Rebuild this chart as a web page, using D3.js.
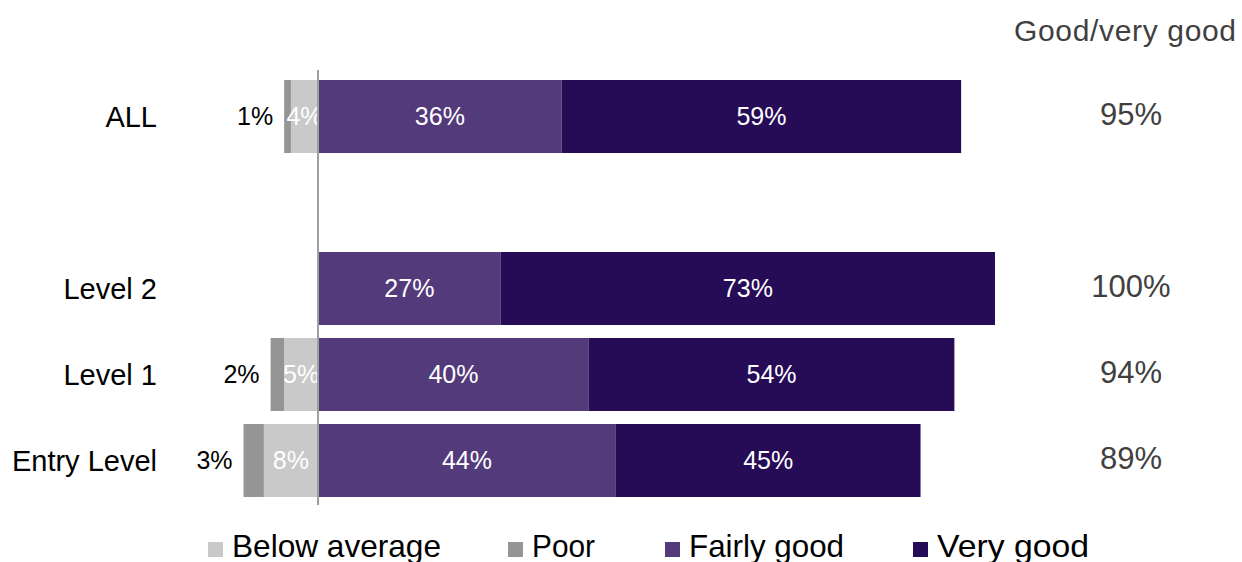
<!DOCTYPE html>
<html><head><meta charset="utf-8">
<script src="https://cdn.jsdelivr.net/npm/d3@7"></script>
<style>body{margin:0;background:#fff}svg{font-family:"Liberation Sans",Arial,sans-serif}</style>
</head><body><svg id="c" width="1242" height="562"></svg>
<script>
const categories = ["ALL", "", "Level 2", "Level 1", "Entry Level"];
const belowAverage = [4, null, 0, 5, 8];
const poor = [1, null, 0, 2, 3];
const fairlyGood = [36, null, 27, 40, 44];
const veryGood = [59, null, 73, 54, 45];
const goodTotal = ["95%", "", "100%", "94%", "89%"];
const seriesNames = ["Below average", "Poor", "Fairly good", "Very good"];
const colors = ["#c9c9c9", "#959595", "#533a7b", "#260b57"];

const svg = d3.select("#c");
const x = d3.scaleLinear().domain([0, 100]).range([318, 995]);
const y = d3.scaleBand().domain(categories.map((c,i)=>i)).range([80, 497]).paddingInner(0.151).paddingOuter(0);
const bh = y.bandwidth();

categories.forEach((cat, i) => {
  if (cat === "") return;
  const g = svg.append("g");
  const y0 = y(i);
  const cy = y0 + bh/2;
  const ba = belowAverage[i], po = poor[i];
  if (ba > 0) {
    g.append("rect").attr("x", x(-ba)).attr("y", y0).attr("width", x(0)-x(-ba)).attr("height", bh).attr("fill", colors[0]);
  }
  if (po > 0) {
    g.append("rect").attr("x", x(-ba-po)).attr("y", y0).attr("width", x(0)-x(-po)).attr("height", bh).attr("fill", colors[1]);
  }
  if (ba > 0) g.append("text").attr("x", (x(-ba)+x(0))/2).attr("y", cy).attr("dy","0.35em").attr("text-anchor","middle").attr("font-size",25).attr("fill","#fff").text(ba+"%");
  if (po > 0) g.append("text").attr("x", x(-ba-po)-11).attr("y", cy).attr("dy","0.35em").attr("text-anchor","end").attr("font-size",25).attr("fill","#000").text(po+"%");
  const fg = fairlyGood[i], vg = veryGood[i];
  g.append("rect").attr("x", x(0)).attr("y", y0).attr("width", x(fg)-x(0)).attr("height", bh).attr("fill", colors[2]);
  g.append("rect").attr("x", x(fg)).attr("y", y0).attr("width", x(fg+vg)-x(fg)).attr("height", bh).attr("fill", colors[3]);
  g.append("text").attr("x", (x(0)+x(fg))/2).attr("y", cy).attr("dy","0.35em").attr("text-anchor","middle").attr("font-size",25).attr("fill","#fff").text(fg+"%");
  g.append("text").attr("x", (x(fg)+x(fg+vg))/2).attr("y", cy).attr("dy","0.35em").attr("text-anchor","middle").attr("font-size",25).attr("fill","#fff").text(vg+"%");
  g.append("text").attr("x", 157).attr("y", cy).attr("dy","0.35em").attr("text-anchor","end").attr("font-size",29).attr("fill","#000").text(cat);
  g.append("text").attr("x", 1131).attr("y", cy - 2).attr("dy","0.35em").attr("text-anchor","middle").attr("font-size",31).attr("fill","#404040").text(goodTotal[i]);
});

svg.append("line").attr("x1", x(0)).attr("x2", x(0)).attr("y1", 70).attr("y2", 505).attr("stroke", "#a0a0a0").attr("stroke-width", 2);

svg.append("text").attr("x", 1236).attr("y", 30).attr("dy","0.35em").attr("text-anchor","end").attr("font-size",30).attr("fill","#404040")
  .attr("textLength", 222).attr("lengthAdjust","spacing").text("Good/very good");

const legSquareX = [208, 508, 665, 913];
const legTextW = [209, 63, 155, 152];
const leg = svg.append("g");
seriesNames.forEach((n, i) => {
  leg.append("rect").attr("x", legSquareX[i]).attr("y", 542).attr("width", 15).attr("height", 15).attr("fill", colors[i]);
  leg.append("text").attr("x", legSquareX[i]+24).attr("y", 557).attr("font-size",32).attr("fill","#000")
    .attr("textLength", legTextW[i]).attr("lengthAdjust","spacingAndGlyphs").text(n);
});
</script></body></html>
